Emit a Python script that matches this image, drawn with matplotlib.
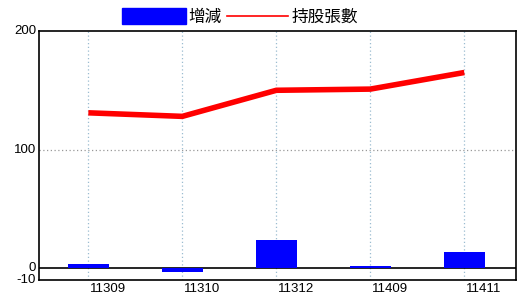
import matplotlib
matplotlib.use("Agg")
import matplotlib.pyplot as plt
from matplotlib.patches import Rectangle
from matplotlib.lines import Line2D
from matplotlib.transforms import ScaledTranslation

categories = ["11309", "11310", "11312", "11409", "11411"]
change = [3.6, -3, 24, 2, 14]
holdings = [131, 128, 150, 151, 165]
yticks = [-10, 0, 100, 200]

plt.rcParams['font.family'] = ['Noto Sans CJK TC', 'DejaVu Sans']

fig = plt.figure(figsize=(5.2, 3.0), dpi=100)
ax = fig.add_axes([39/520, 1 - 280/300, (516-39)/520, (280-31)/300])

x = list(range(len(categories)))
ax.bar(x, change, width=0.43, color='#0000ff', zorder=3)
ax.plot(x, holdings, color='#ff0000', linewidth=4, zorder=4, solid_capstyle='butt')
ax.axhline(0, color='black', linewidth=1.2, zorder=2)

ax.set_xlim(-0.525, 4.55)
ax.set_ylim(-10, 200)
ax.set_yticks(yticks)
ax.set_yticklabels([str(v) for v in yticks], fontsize=9.5, family='Liberation Sans')
ax.set_xticks(x)
ax.set_xticklabels(categories, fontsize=9.5, family='Liberation Sans', ha='left')
ax.tick_params(length=0, pad=2)
for t in ax.get_yticklabels():
    t.set_verticalalignment('center')
off = ScaledTranslation(2/100, 0, fig.dpi_scale_trans)
for t in ax.get_xticklabels():
    t.set_transform(t.get_transform() + off)

for xi in x:
    ax.axvline(xi, color='#9bbcd0', linestyle=(0, (1, 2)), linewidth=0.9, zorder=1)
ax.axhline(100, color='#999999', linestyle=(0, (1, 2)), linewidth=0.9, zorder=1)

for s in ax.spines.values():
    s.set_color('black')
    s.set_linewidth(1.2)

# legend
fig.patches.append(Rectangle((122/520, 1 - 24/300), 64/520, 16/300,
                             transform=fig.transFigure, color='#0000ff'))
fig.text(188/520, 1 - 17/300, "增減", fontsize=12, va='center', ha='left')
fig.lines.append(Line2D([227/520, 288/520], [1 - 16/300, 1 - 16/300],
                        transform=fig.transFigure, color='#ff0000', linewidth=1.2))
fig.text(292/520, 1 - 17/300, "持股張數", fontsize=12, va='center', ha='left')

fig.savefig("out.png", dpi=100)
